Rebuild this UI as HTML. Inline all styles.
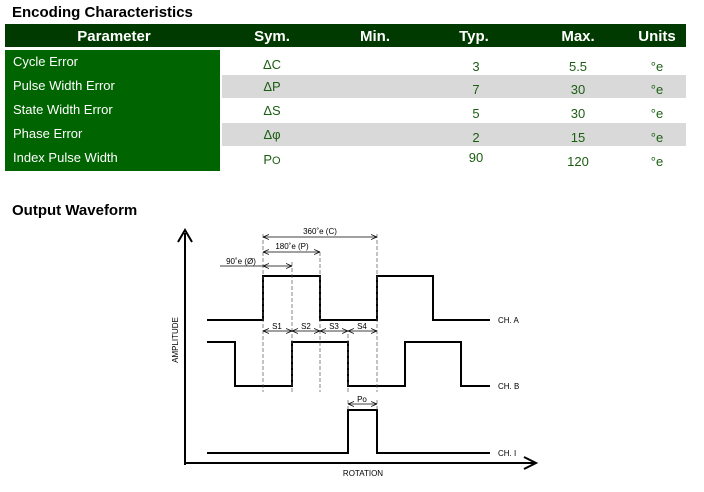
<!DOCTYPE html>
<html><head><style>
body{margin:0;width:704px;height:492px;background:#fff;position:relative;overflow:hidden;font-family:"Liberation Sans",sans-serif}
.a{position:absolute}
.h{color:#fff;font-weight:bold;font-size:15px;top:28px;transform:translateX(-50%)}
.l{color:#fff;font-size:13px;left:13px}
.v{color:#1b5e12;font-size:13px;transform:translateX(-50%)}
</style></head><body>
<div class="a" style="left:12px;top:4px;font-weight:bold;font-size:15px">Encoding Characteristics</div>
<div class="a" style="left:5px;top:24px;width:681px;height:23px;background:#003a00"></div>
<div class="a" style="left:5px;top:50px;width:215px;height:121px;background:#006400"></div>
<div class="a" style="left:222px;top:75px;width:464px;height:23px;background:#d9d9d9"></div>
<div class="a" style="left:222px;top:123px;width:464px;height:23px;background:#d9d9d9"></div>
<div class="a h" style="left:114px">Parameter</div>
<div class="a h" style="left:272px">Sym.</div>
<div class="a h" style="left:375px">Min.</div>
<div class="a h" style="left:474px">Typ.</div>
<div class="a h" style="left:578px">Max.</div>
<div class="a h" style="left:657px">Units</div>
<div class="a l" style="top:54px">Cycle Error</div>
<div class="a l" style="top:78px">Pulse Width Error</div>
<div class="a l" style="top:102px">State Width Error</div>
<div class="a l" style="top:126px">Phase Error</div>
<div class="a l" style="top:150px">Index Pulse Width</div>
<div class="a v" style="left:272px;top:57px">ΔC</div>
<div class="a v" style="left:272px;top:79px">ΔP</div>
<div class="a v" style="left:272px;top:103px">ΔS</div>
<div class="a v" style="left:272px;top:127px">Δφ</div>
<div class="a v" style="left:272px;top:152px">P<span style="font-size:11px">O</span></div>
<div class="a v" style="left:476px;top:59px">3</div>
<div class="a v" style="left:476px;top:82px">7</div>
<div class="a v" style="left:476px;top:106px">5</div>
<div class="a v" style="left:476px;top:130px">2</div>
<div class="a v" style="left:476px;top:150px">90</div>
<div class="a v" style="left:578px;top:59px">5.5</div>
<div class="a v" style="left:578px;top:82px">30</div>
<div class="a v" style="left:578px;top:106px">30</div>
<div class="a v" style="left:578px;top:130px">15</div>
<div class="a v" style="left:578px;top:154px">120</div>
<div class="a v" style="left:657px;top:59px">°e</div>
<div class="a v" style="left:657px;top:82px">°e</div>
<div class="a v" style="left:657px;top:106px">°e</div>
<div class="a v" style="left:657px;top:130px">°e</div>
<div class="a v" style="left:657px;top:154px">°e</div>
<div class="a" style="left:12px;top:202px;font-weight:bold;font-size:15px">Output Waveform</div>
<svg class="a" style="left:0;top:0" width="704" height="492">
<defs><marker id="m" markerWidth="6" markerHeight="6" refX="6" refY="3" orient="auto-start-reverse" markerUnits="userSpaceOnUse"><path d="M0,0.5 L6,3 L0,5.5" fill="none" stroke="#000" stroke-width="0.8"/></marker></defs>
<g fill="none" stroke="#000" stroke-width="2">
<path d="M185,465 V233 M178,242 L185,230 L192,242"/>
<path d="M184,463 H535 M524,457 L536,463 L524,469"/>
<path d="M207,320 H263 V276 H320 V320 H377 V276 H433 V320 H490"/>
<path d="M207,342 H235 V386 H292 V342 H348 V386 H405 V342 H461 V386 H490"/>
<path d="M207,453 H348 V410 H377 V453 H490"/>
</g>
<g stroke="#555" stroke-width="0.7" stroke-dasharray="4,2" fill="none">
<path d="M263,234 V392 M292,262 V392 M320,252 V392 M348,334 V392 M377,234 V392"/>
<path d="M348,400 V410 M377,400 V410"/>
</g>
<g stroke="#000" stroke-width="0.7" fill="none">
<path d="M263,237 H377" marker-start="url(#m)" marker-end="url(#m)"/>
<path d="M263,252 H320" marker-start="url(#m)" marker-end="url(#m)"/>
<path d="M220,266 H263"/>
<path d="M263,266 H292" marker-start="url(#m)" marker-end="url(#m)"/>
<path d="M263,331 H292" marker-start="url(#m)" marker-end="url(#m)"/>
<path d="M292,331 H320" marker-start="url(#m)" marker-end="url(#m)"/>
<path d="M320,331 H348" marker-start="url(#m)" marker-end="url(#m)"/>
<path d="M348,331 H377" marker-start="url(#m)" marker-end="url(#m)"/>
<path d="M348,404 H377" marker-start="url(#m)" marker-end="url(#m)"/>
</g>
<g font-family="Liberation Sans,sans-serif" font-size="8" fill="#000" text-anchor="middle">
<text x="320" y="234">360˚e (C)</text>
<text x="292" y="249">180˚e (P)</text>
<text x="241" y="264">90˚e (Ø)</text>
<text x="277" y="329">S1</text><text x="306" y="329">S2</text><text x="334" y="329">S3</text><text x="362" y="329">S4</text>
<text x="362" y="402">Po</text>
<text x="363" y="476">ROTATION</text>
<text x="0" y="0" transform="translate(178,340) rotate(-90)">AMPLITUDE</text>
<text x="498" y="323" text-anchor="start">CH. A</text>
<text x="498" y="389" text-anchor="start">CH. B</text>
<text x="498" y="456" text-anchor="start">CH. I</text>
</g>
</svg>
</body></html>
